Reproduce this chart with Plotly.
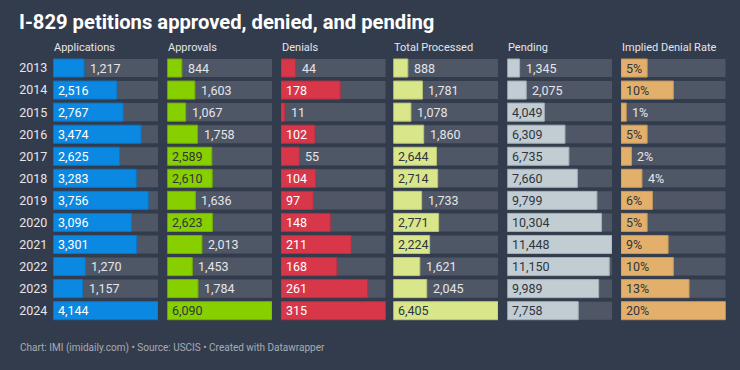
import plotly.graph_objects as go

years = ["2013", "2014", "2015", "2016", "2017", "2018", "2019", "2020", "2021", "2022", "2023", "2024"]
applications = [1217, 2516, 2767, 3474, 2625, 3283, 3756, 3096, 3301, 1270, 1157, 4144]
approvals = [844, 1603, 1067, 1758, 2589, 2610, 1636, 2623, 2013, 1453, 1784, 6090]
denials = [44, 178, 11, 102, 55, 104, 97, 148, 211, 168, 261, 315]
total_processed = [888, 1781, 1078, 1860, 2644, 2714, 1733, 2771, 2224, 1621, 2045, 6405]
pending = [1345, 2075, 4049, 6309, 6735, 7660, 9799, 10304, 11448, 11150, 9989, 7758]
denial_rate = [5, 10, 1, 5, 2, 4, 6, 5, 9, 10, 13, 20]

column_titles = ["Applications", "Approvals", "Denials", "Total Processed", "Pending", "Implied Denial Rate"]

W, H = 740, 370
BG = "#333c4d"
TRACK = "#4f5767"
FONT = "Roboto"
LIGHT = "#e4e6ea"
DARK = "#2f3540"

columns = [
    (column_titles[0], applications, "#0b88e2", "#0a74c2", "white", False),
    (column_titles[1], approvals, "#88cf00", "#73b000", DARK, False),
    (column_titles[2], denials, "#d8374a", "#b92e3f", "white", False),
    (column_titles[3], total_processed, "#d9e68a", "#b9c574", DARK, False),
    (column_titles[4], pending, "#c1cdd2", "#a3aeb3", DARK, False),
    (column_titles[5], denial_rate, "#e3b06c", "#c4975a", DARK, True),
]

col_left = [53.3, 167.3, 281.0, 393.3, 507.3, 621.0]
col_w = 104.7
row_top, row_bottom = 57.0, 321.7

def fmt(v, pct):
    return f"{v}%" if pct else f"{v:,}"

def text_width(s):
    w = 0.0
    for ch in s:
        if ch == ",":
            w += 2.9
        elif ch == "%":
            w += 10.0
        else:
            w += 6.74
    return w

fig = go.Figure()
annotations = []
layout_axes = {}

for i, (title, vals, color, lcolor, intext, pct) in enumerate(columns):
    xname = "x" if i == 0 else f"x{i+1}"
    xkey = "xaxis" if i == 0 else f"xaxis{i+1}"
    vmax = max(vals)
    fig.add_trace(go.Bar(
        y=years, x=[vmax] * len(years), orientation="h",
        marker=dict(color=TRACK, line=dict(width=0)),
        xaxis=xname, yaxis="y", hoverinfo="skip", showlegend=False))
    fig.add_trace(go.Bar(
        y=years, x=vals, orientation="h",
        marker=dict(color=color, line=dict(color=lcolor, width=1)),
        xaxis=xname, yaxis="y", showlegend=False,
        hovertemplate="%{y}: %{x}<extra>" + title + "</extra>"))
    layout_axes[xkey] = dict(
        domain=[col_left[i] / W, (col_left[i] + col_w) / W],
        range=[0, vmax], visible=False, fixedrange=True, anchor="y")
    annotations.append(dict(
        text=title, xref=f"{xname} domain", x=0, xanchor="left", xshift=-1,
        yref="paper", y=1 - 47.5 / H, yanchor="middle", showarrow=False,
        font=dict(family=FONT, size=11, color=LIGHT)))
    for j, v in enumerate(vals):
        s = fmt(v, pct)
        bar_px = v / vmax * col_w
        inside = bar_px >= text_width(s) + 5
        annotations.append(dict(
            text=s, xref=xname, yref="y", x=0 if inside else v, y=j,
            xanchor="left", yanchor="middle", xshift=3 if inside else 4,
            showarrow=False,
            font=dict(family=FONT, size=12.5, color=intext if inside else LIGHT)))

annotations.append(dict(
    text="Chart: IMI (imidaily.com) • Source: USCIS • Created with Datawrapper",
    xref="paper", yref="paper", x=19 / W, y=1 - 348 / H, xanchor="left", yanchor="middle",
    xshift=-1, showarrow=False, font=dict(family=FONT, size=10, color="#a7acb4")))

fig.update_layout(
    width=W, height=H, autosize=False,
    margin=dict(l=0, r=0, t=0, b=0, pad=0),
    paper_bgcolor=BG, plot_bgcolor=BG,
    barmode="overlay", bargap=4 / 22,
    title=dict(text="I-829 petitions approved, denied, and pending",
               font=dict(family=FONT, size=20.2, color="white", weight=700),
               x=19 / W, xanchor="left", xref="container",
               y=1 - 21.5 / H, yanchor="middle", yref="container"),
    yaxis=dict(type="category", categoryorder="array", categoryarray=years,
               range=[len(years) - 0.5, -0.5],
               domain=[1 - row_bottom / H, 1 - row_top / H],
               showgrid=False, zeroline=False, showline=False, ticks="",
               ticklabelstandoff=5, fixedrange=True, automargin=False,
               tickfont=dict(family=FONT, size=12.5, color=LIGHT)),
    annotations=annotations,
    **layout_axes,
)

fig.write_html("out.html", config={"displayModeBar": False},
               post_script="document.body.style.margin='0';document.body.style.background='" + BG + "';")
